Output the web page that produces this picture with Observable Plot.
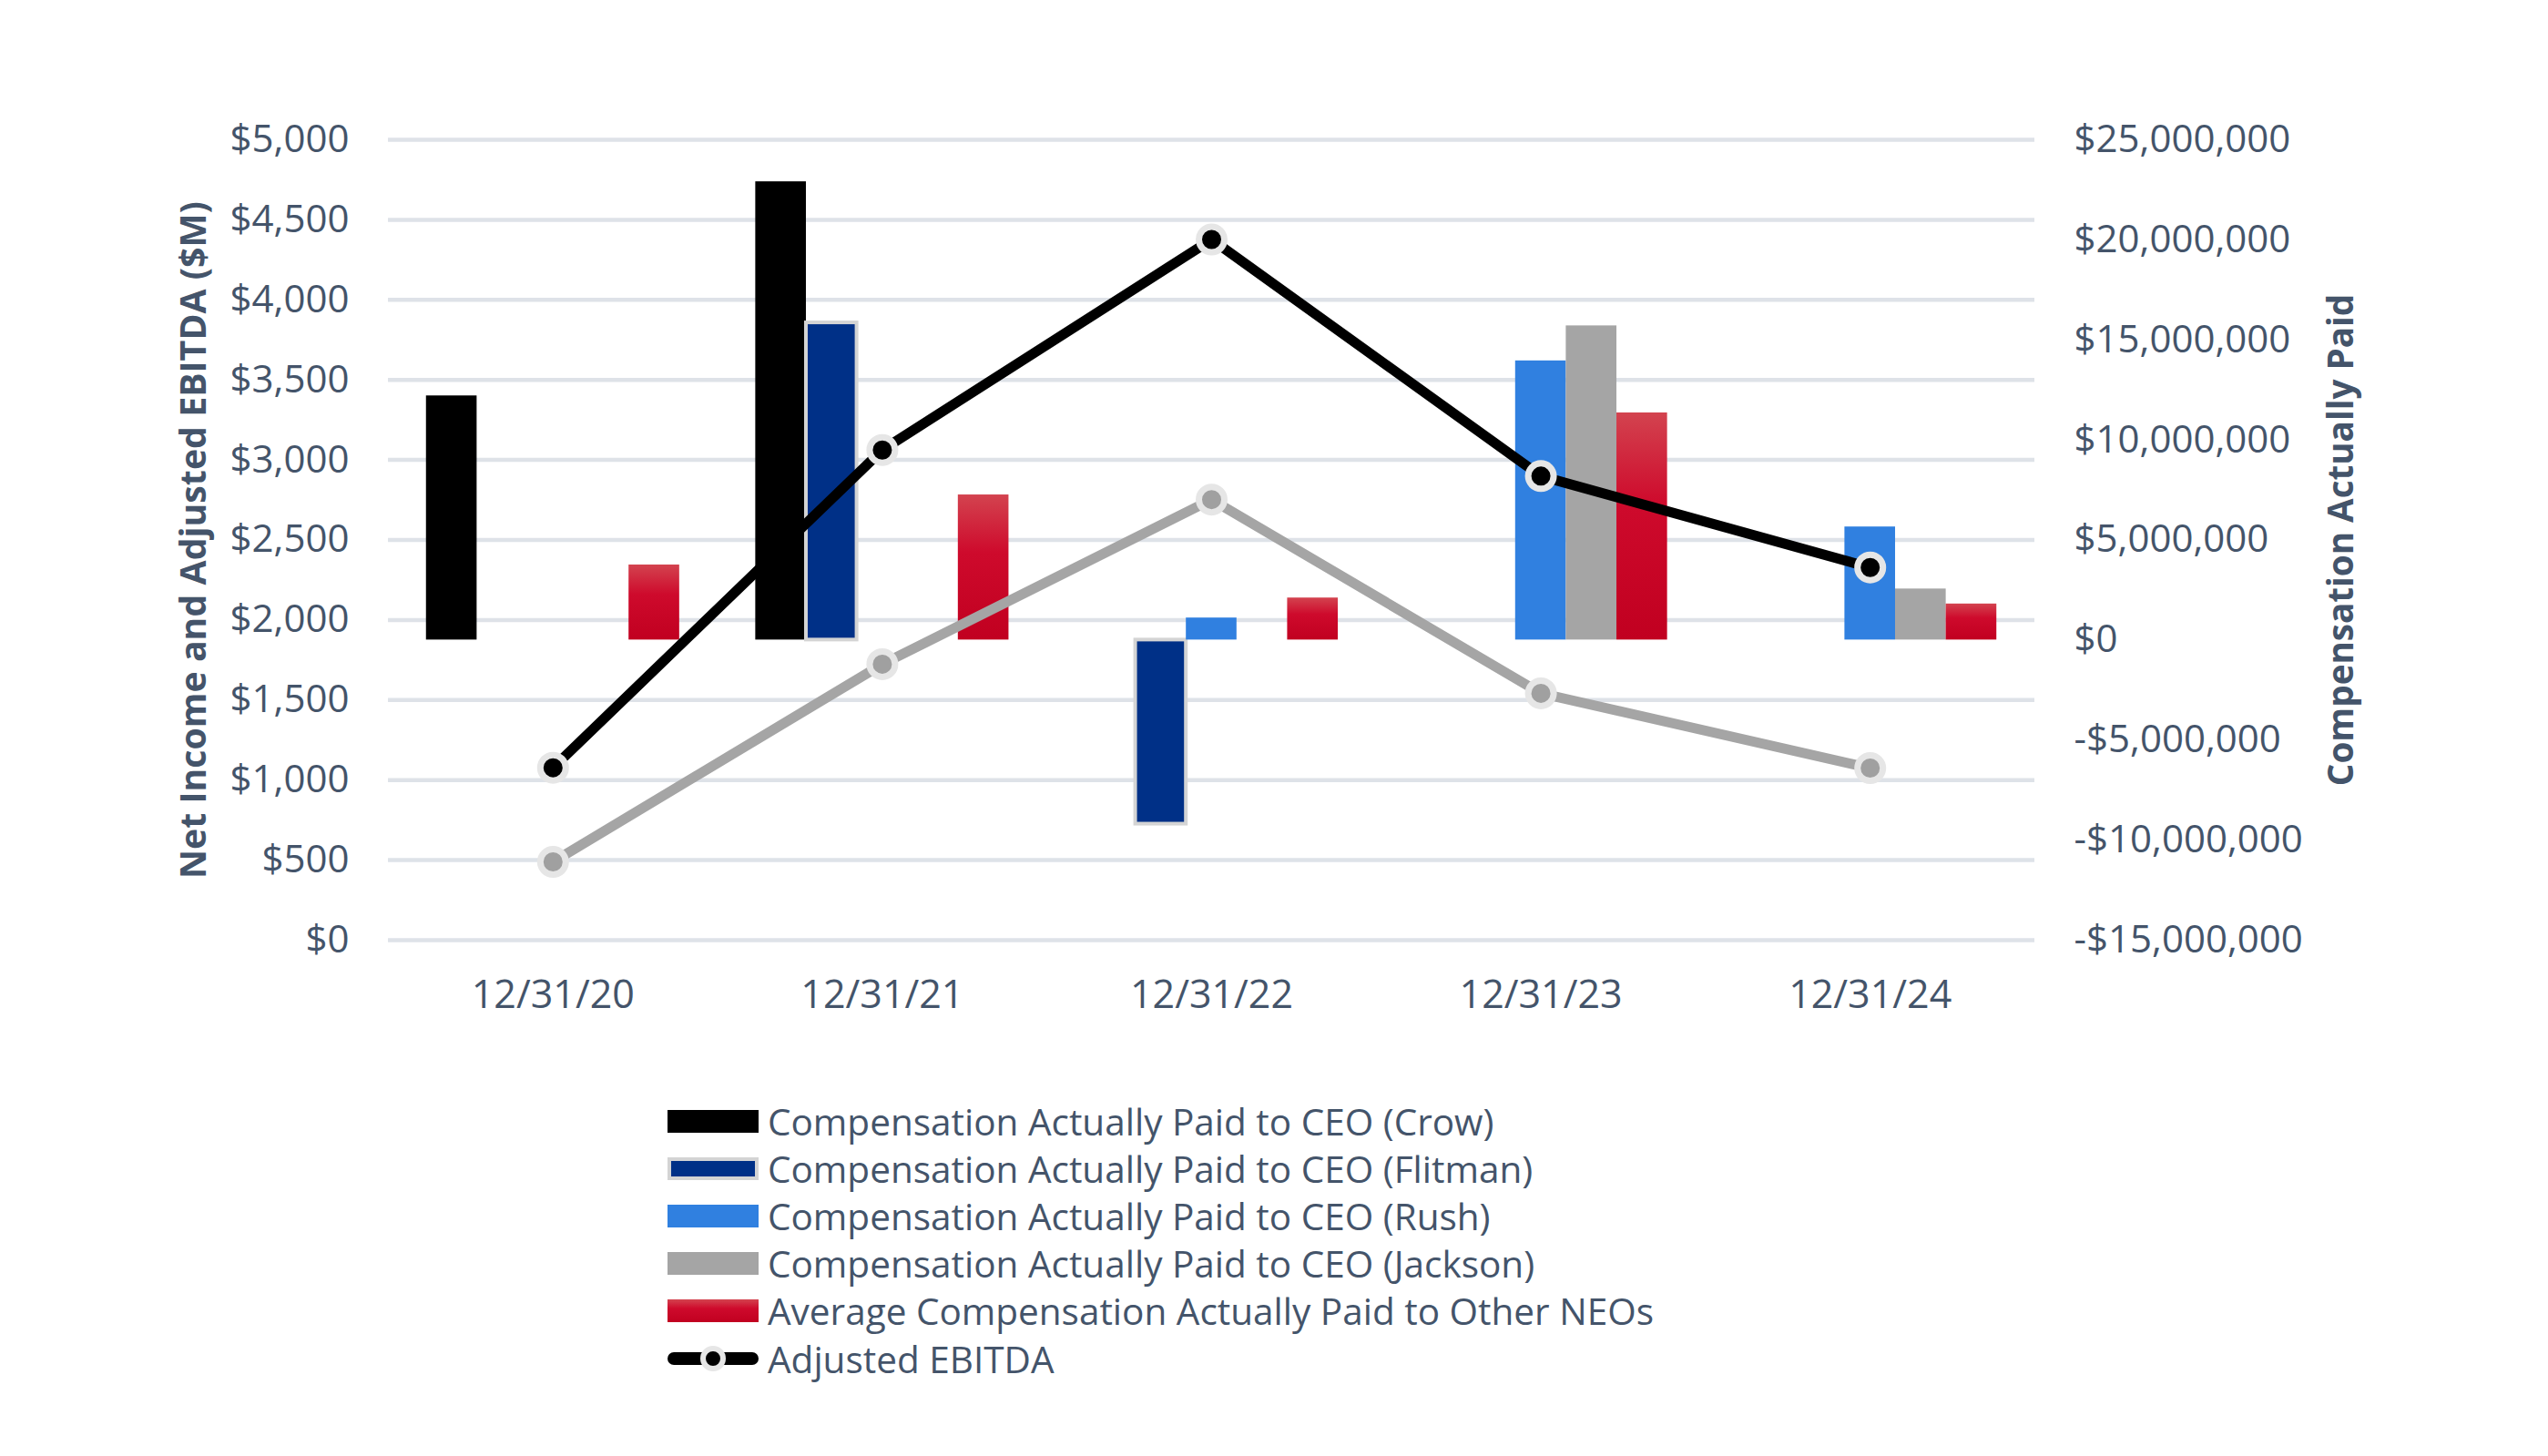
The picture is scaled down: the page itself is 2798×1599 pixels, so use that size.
<!DOCTYPE html>
<html>
<head>
<meta charset="utf-8">
<script src="https://cdn.jsdelivr.net/npm/d3@7"></script>
<script src="https://cdn.jsdelivr.net/npm/@observablehq/plot@0.6"></script>
<style>
  body { margin: 0; background: #fff; font-family: "Open Sans", sans-serif; }
  #legend { margin-left: 733px; margin-top: 55px; color: #44546A; font-size: 40.5px; }
  .row { display: flex; align-items: center; height: 52.2px; white-space: nowrap; }
  .sw { width: 100px; height: 25px; margin-right: 10px; box-sizing: border-box; flex: none; }
  .swl { width: 100px; height: 40px; margin-right: 10px; flex: none; }
</style>
</head>
<body>
<div id="chart"></div>
<div id="legend"></div>
<script>
// ---- data ----
const categories = ["12/31/20", "12/31/21", "12/31/22", "12/31/23", "12/31/24"];
const capCrow    = [12200000, 22900000, null, null, null];
const capFlitman = [null, 15850000, -9200000, null, null];
const capRush    = [null, null, 1100000, 13950000, 5650000];
const capJackson = [null, null, null, 15700000, 2550000];
const capOtherNEOs = [3750000, 7250000, 2100000, 11350000, 1800000];
const adjustedEBITDA = [1077, 3062, 4377, 2899, 2328];
const netIncome = [489, 1724, 2752, 1542, 1075];
const leftTicks = [0, 500, 1000, 1500, 2000, 2500, 3000, 3500, 4000, 4500, 5000];
const compTicks = [-15000000, -10000000, -5000000, 0, 5000000, 10000000, 15000000, 20000000, 25000000];

// ---- helpers ----
const leftMax = 5000, compMin = -15000000, compMax = 25000000;
const toLeft = v => (v - compMin) / (compMax - compMin) * leftMax;
const fromLeft = y => y / leftMax * (compMax - compMin) + compMin;
const fmt = d3.format(",");
const money = v => (v < 0 ? "-$" : "$") + fmt(Math.abs(Math.round(v)));
const textColor = "#44546A";
const slotW = 0.1538;

const series = [
  {name: "Compensation Actually Paid to CEO (Crow)", values: capCrow, slot: 0, fill: "#000000"},
  {name: "Compensation Actually Paid to CEO (Flitman)", values: capFlitman, slot: 1, fill: "#003087", stroke: "#D4D4D4"},
  {name: "Compensation Actually Paid to CEO (Rush)", values: capRush, slot: 2, fill: "#3080E0"},
  {name: "Compensation Actually Paid to CEO (Jackson)", values: capJackson, slot: 3, fill: "#A5A5A5"},
  {name: "Average Compensation Actually Paid to Other NEOs", values: capOtherNEOs, slot: 4, fill: "url(#redGrad)", css: "linear-gradient(#D3434F, #CE0A2C 40%, #C10020)"}
];

const idx = d3.range(categories.length);

const defs = () => {
  const ns = "http://www.w3.org/2000/svg";
  const d = document.createElementNS(ns, "defs");
  d.innerHTML = '<linearGradient id="redGrad" x1="0" y1="0" x2="0" y2="1">' +
    '<stop offset="0" stop-color="#D3434F"/><stop offset="0.4" stop-color="#CE0A2C"/><stop offset="1" stop-color="#C10020"/></linearGradient>';
  return d;
};

const barMarks = series.map(s => {
  const rows = idx.filter(i => s.values[i] != null).map(i => ({i, v: s.values[i]}));
  return Plot.rectY(rows, {
    x1: d => d.i + (s.slot - 2.5) * slotW,
    x2: d => d.i + (s.slot - 1.5) * slotW,
    y1: () => toLeft(0),
    y2: d => toLeft(d.v),
    fill: s.fill,
    stroke: s.stroke || "none",
    strokeWidth: s.stroke ? 4 : 0
  });
});

const chart = Plot.plot({
  width: 2798,
  height: 1150,
  marginLeft: 426,
  marginRight: 564,
  marginTop: 153,
  marginBottom: 118,
  style: {fontFamily: "'Open Sans', sans-serif", background: "#fff"},
  x: {domain: [-0.5, 4.5], axis: null},
  y: {domain: [0, 5000], axis: null},
  marks: [
    defs,
    Plot.gridY(leftTicks, {stroke: "#DEE2E8", strokeOpacity: 1, strokeWidth: 4.5}),
    ...barMarks,
    Plot.line(idx, {x: i => i, y: i => netIncome[i], stroke: "#A5A5A5", strokeWidth: 11, strokeLinejoin: "round"}),
    Plot.dot(idx, {x: i => i, y: i => netIncome[i], r: 14, fill: "#A0A0A0", stroke: "#E6E6E6", strokeWidth: 7}),
    Plot.line(idx, {x: i => i, y: i => adjustedEBITDA[i], stroke: "#000000", strokeWidth: 11, strokeLinejoin: "round"}),
    Plot.dot(idx, {x: i => i, y: i => adjustedEBITDA[i], r: 14, fill: "#000000", stroke: "#E6E6E6", strokeWidth: 7}),
    Plot.axisY(leftTicks, {anchor: "left", tickSize: 0, tickPadding: 43, tickFormat: d => money(d), fontSize: 42, fill: textColor, label: null}),
    Plot.axisY(compTicks.map(toLeft), {anchor: "right", tickSize: 0, tickPadding: 43, tickFormat: d => money(fromLeft(d)), fontSize: 42, fill: textColor, label: null}),
    Plot.axisX(idx, {tickSize: 0, tickPadding: 44, tickFormat: i => categories[i], fontSize: 43, fill: textColor, label: null}),
    Plot.text(["Net Income and Adjusted EBITDA ($M)"], {frameAnchor: "left", dx: -213, rotate: -90, fontSize: 39.3, fontWeight: 700, fill: textColor, textAnchor: "middle", lineAnchor: "middle"}),
    Plot.text(["Compensation Actually Paid"], {frameAnchor: "right", dx: 337, rotate: -90, fontSize: 38.6, fontWeight: 700, fill: textColor, textAnchor: "middle", lineAnchor: "middle"})
  ]
});
document.getElementById("chart").appendChild(chart);

// ---- legend ----
const legend = document.getElementById("legend");
series.forEach(s => {
  const row = document.createElement("div");
  row.className = "row";
  const sw = document.createElement("div");
  sw.className = "sw";
  sw.style.background = s.css || s.fill;
  if (s.stroke) sw.style.border = "4px solid " + s.stroke;
  const t = document.createElement("span");
  t.textContent = s.name;
  row.appendChild(sw); row.appendChild(t);
  legend.appendChild(row);
});
const row = document.createElement("div");
row.className = "row";
row.innerHTML = '<svg class="swl" viewBox="0 0 100 40"><line x1="7" y1="20" x2="93" y2="20" stroke="#000" stroke-width="14" stroke-linecap="round"/><circle cx="50" cy="20" r="11" fill="#000" stroke="#E6E6E6" stroke-width="6"/></svg><span>Adjusted EBITDA</span>';
legend.appendChild(row);
</script>
</body>
</html>
